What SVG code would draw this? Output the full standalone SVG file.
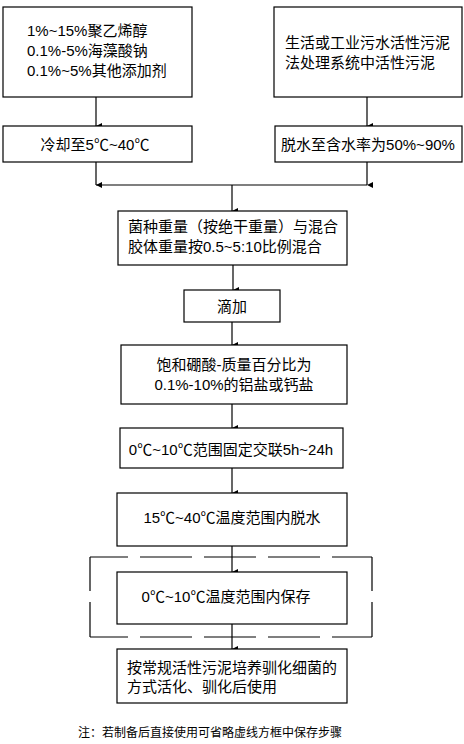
<svg xmlns="http://www.w3.org/2000/svg" width="464" height="744" viewBox="0 0 464 744">
<defs>
<marker id="ah" markerWidth="8" markerHeight="8" refX="4" refY="7" orient="auto-start-reverse" markerUnits="userSpaceOnUse" viewBox="0 0 8 8">
<path d="M1,1 L7,1 L4,7 Z" fill="#000"/>
</marker>
<style>
.box{fill:#fff;stroke:#000;stroke-width:1.2}
.dh{fill:none;stroke:#000;stroke-width:1.2;stroke-dasharray:38 12 52 12 52 12 52 12 40}
.dv{fill:none;stroke:#000;stroke-width:1.2;stroke-dasharray:34 11 40}
.ln{fill:none;stroke:#000;stroke-width:1.2}
.ar{fill:none;stroke:#000;stroke-width:1.2;marker-end:url(#ah)}
text{font-family:"Liberation Sans","Noto Sans CJK SC",sans-serif;font-size:15px;fill:#000}
.c{text-anchor:middle}
.note{font-size:12px}
</style>
</defs>
<rect x="0" y="0" width="464" height="744" fill="#fff"/>
<g id="connectors">
<path class="ar" d="M96,97 V126"/>
<path class="ar" d="M367,97 V126"/>
<path class="ln" d="M96,185 H367"/>
<path class="ar" d="M96,162 V185"/>
<path class="ar" d="M367,162 V185"/>
<path class="ar" d="M232,185 V211"/>
<path class="ar" d="M233,265 V290"/>
<path class="ar" d="M232,322 V345"/>
<path class="ar" d="M232,404 V428"/>
<path class="ar" d="M232,468 V493"/>
<path class="ar" d="M232,546 V572"/>
<path class="ar" d="M232,624 V649"/>
</g>
<g id="n1">
<rect class="box" x="3" y="7" width="189" height="90"/>
<text x="27" y="36">1%~15%聚乙烯醇</text>
<text x="27" y="56">0.1%-5%海藻酸钠</text>
<text x="27" y="76">0.1%~5%其他添加剂</text>
</g>
<g id="n2">
<rect class="box" x="274" y="7" width="188" height="90"/>
<text x="285" y="48">生活或工业污水活性污泥</text>
<text x="285" y="68">法处理系统中活性污泥</text>
</g>
<g id="n3">
<rect class="box" x="3" y="126" width="189" height="36"/>
<text class="c" x="95" y="150">冷却至5℃~40℃</text>
</g>
<g id="n4">
<rect class="box" x="275" y="126" width="187" height="36"/>
<text class="c" x="368" y="150">脱水至含水率为50%~90%</text>
</g>
<g id="n5">
<rect class="box" x="118" y="211" width="229" height="54"/>
<text x="128" y="232">菌种重量（按绝干重量）与混合</text>
<text x="128" y="252">胶体重量按0.5~5:10比例混合</text>
</g>
<g id="n6">
<rect class="box" x="184" y="290" width="96" height="32"/>
<text class="c" x="232" y="312">滴加</text>
</g>
<g id="n7">
<rect class="box" x="121" y="345" width="226" height="59"/>
<text class="c" x="234" y="370">饱和硼酸-质量百分比为</text>
<text class="c" x="234" y="390">0.1%-10%的铝盐或钙盐</text>
</g>
<g id="n8">
<rect class="box" x="120" y="428" width="223" height="40"/>
<text class="c" x="231" y="455">0℃~10℃范围固定交联5h~24h</text>
</g>
<g id="n9">
<rect class="box" x="117" y="493" width="230" height="53"/>
<text class="c" x="232" y="523">15℃~40℃温度范围内脱水</text>
</g>
<g id="dashedFrame">
<path class="dh" d="M90,557 H372"/>
<path class="dh" d="M90,637 H372"/>
<path class="dv" d="M90,557 V637"/>
<path class="dv" d="M372,557 V637"/>
</g>
<g id="n10">
<rect class="box" x="117" y="572" width="230" height="52"/>
<text class="c" x="226" y="602">0℃~10℃温度范围内保存</text>
</g>
<g id="n11">
<rect class="box" x="117" y="649" width="230" height="54"/>
<text x="127" y="673">按常规活性污泥培养驯化细菌的</text>
<text x="127" y="692">方式活化、驯化后使用</text>
</g>
<g id="note">
<text class="note" x="78" y="737">注：若制备后直接使用可省略虚线方框中保存步骤</text>
</g>
</svg>
